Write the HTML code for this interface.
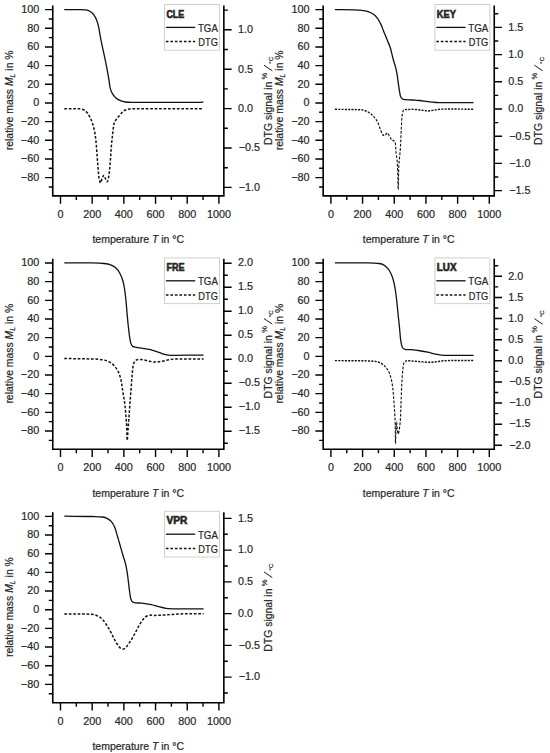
<!DOCTYPE html>
<html><head><meta charset="utf-8"><style>
html,body{margin:0;padding:0;background:#fff;}
svg{display:block;}
text{font-family:"Liberation Sans",sans-serif;font-size:10.8px;fill:#262626;stroke:#262626;stroke-width:0.2px;}
.tt{font-size:10.5px;}
.ax{fill:none;stroke:#000;stroke-width:1.6;}
.tk{fill:none;stroke:#000;stroke-width:1.4;}
.cv{fill:none;stroke:#111;stroke-width:1.3;stroke-linejoin:round;}
.cv.dash{stroke-width:1.5;}
.dash{stroke-dasharray:2.6 1.9;}
.dash.crv{stroke-dasharray:2.7 1.75;}
.c1 .dash.crv{stroke-dasharray:2.7 1.6;stroke-width:1.45;}
</style></head><body>
<svg width="550" height="753" viewBox="0 0 550 753">
<g class="c0">
<g transform="translate(0,0)">
<path class="ax" d="M52.76,5.45V195.9H223.85V5.45"/>
<text x="39.2" y="180.89" text-anchor="end">−80</text>
<text x="39.2" y="162.23" text-anchor="end">−60</text>
<text x="39.2" y="143.56" text-anchor="end">−40</text>
<text x="39.2" y="124.90" text-anchor="end">−20</text>
<text x="39.2" y="106.23" text-anchor="end">0</text>
<text x="39.2" y="87.56" text-anchor="end">20</text>
<text x="39.2" y="68.90" text-anchor="end">40</text>
<text x="39.2" y="50.23" text-anchor="end">60</text>
<text x="39.2" y="31.57" text-anchor="end">80</text>
<text x="39.2" y="12.90" text-anchor="end">100</text>
<text x="60.50" y="218" text-anchor="middle">0</text>
<text x="92.18" y="218" text-anchor="middle">200</text>
<text x="123.86" y="218" text-anchor="middle">400</text>
<text x="155.54" y="218" text-anchor="middle">600</text>
<text x="187.22" y="218" text-anchor="middle">800</text>
<text x="218.90" y="218" text-anchor="middle">1000</text>
<text x="238.75" y="190.70">−1.0</text>
<text x="238.75" y="151.30">−0.5</text>
<text x="237.95" y="111.90">0.0</text>
<text x="237.95" y="72.50">0.5</text>
<text x="237.95" y="33.10">1.0</text>
<path class="tk" d="M44.96,177.59H52.76M44.96,158.93H52.76M44.96,140.26H52.76M44.96,121.60H52.76M44.96,102.93H52.76M44.96,84.26H52.76M44.96,65.60H52.76M44.96,46.93H52.76M44.96,28.27H52.76M44.96,9.60H52.76M48.76,186.93H52.76M48.76,168.26H52.76M48.76,149.59H52.76M48.76,130.93H52.76M48.76,112.26H52.76M48.76,93.60H52.76M48.76,74.93H52.76M48.76,56.27H52.76M48.76,37.60H52.76M48.76,18.93H52.76M60.50,195.9V203.70M92.18,195.9V203.70M123.86,195.9V203.70M155.54,195.9V203.70M187.22,195.9V203.70M218.90,195.9V203.70M76.34,195.9V199.90M108.02,195.9V199.90M139.70,195.9V199.90M171.38,195.9V199.90M203.06,195.9V199.90M223.85,187.40H231.65M223.85,148.00H231.65M223.85,108.60H231.65M223.85,69.20H231.65M223.85,29.80H231.65M223.85,167.70H227.85M223.85,128.30H227.85M223.85,88.90H227.85M223.85,49.50H227.85M223.85,10.10H227.85"/>
<text class="tt" x="138.3" y="243.2" text-anchor="middle" textLength="91.7" lengthAdjust="spacingAndGlyphs">temperature <tspan font-style="italic">T</tspan> in °C</text>
<text class="tt" transform="translate(12.9,100.3) rotate(-90)" text-anchor="middle" textLength="99.8" lengthAdjust="spacingAndGlyphs">relative mass <tspan font-style="italic">M</tspan><tspan font-style="italic" font-size="7" dy="2">L</tspan><tspan dy="-2"> in %</tspan></text>
<text class="tt" transform="translate(271.8,145.0) rotate(-90)" textLength="63.3" lengthAdjust="spacingAndGlyphs">DTG signal in</text>
<text class="tt" transform="translate(266.5,79.4) rotate(-90)" style="font-size:7.5px;stroke-width:0.2px">%</text>
<path d="M272.3,70.8L264,65.2" stroke="#1c1c1c" stroke-width="1"/>
<text class="tt" transform="translate(273.4,63.7) rotate(-90)" style="font-size:6.1px;stroke-width:0.2px">°C</text>
<rect x="164.5" y="4.5" width="55" height="45.7" fill="#fff" stroke="#d0d0d0" stroke-width="1"/>
<text x="166.4" y="17.7" font-weight="bold" style="font-size:10px;stroke-width:0.6px" textLength="17.9" lengthAdjust="spacingAndGlyphs">CLE</text>
<path class="cv" d="M165.9,27.4H195.2"/>
<path class="cv dash" d="M165.9,41.6H195.2"/>
<text x="197.9" y="31.9" style="font-size:10.2px" textLength="20" lengthAdjust="spacingAndGlyphs">TGA</text>
<text x="198.3" y="46.4" style="font-size:10.2px" textLength="19.6" lengthAdjust="spacingAndGlyphs">DTG</text>
</g>
<path class="cv" d="M64.30,9.60C69.20,9.60 74.10,9.53 79.00,9.60C81.17,9.63 83.37,9.59 85.50,9.90C87.00,10.12 88.61,10.46 89.90,11.20C91.34,12.02 92.69,13.27 93.70,14.60C94.92,16.20 95.83,18.12 96.60,20.00C97.43,22.05 98.02,24.23 98.50,26.40C99.35,30.26 99.85,34.21 100.60,38.10C101.28,41.64 102.05,45.17 102.80,48.70C103.48,51.90 104.23,55.09 104.90,58.30C105.63,61.83 106.34,65.36 107.00,68.90C107.67,72.46 108.30,76.03 108.90,79.60C109.37,82.43 109.52,85.33 110.20,88.10C110.65,89.93 111.38,91.76 112.30,93.40C113.12,94.86 114.16,96.29 115.40,97.40C116.89,98.73 118.68,99.87 120.50,100.70C122.05,101.40 123.80,101.78 125.50,102.00C127.97,102.32 130.50,102.29 133.00,102.30C155.33,102.39 177.67,102.40 200.00,102.30C201.10,102.30 202.20,102.10 203.30,102.00"/>
<path class="cv dash crv" d="M64.30,108.80C69.37,108.80 74.46,108.54 79.50,108.80C80.90,108.87 82.36,109.21 83.60,109.80C84.79,110.37 85.91,111.30 86.80,112.30C87.88,113.50 88.71,114.97 89.50,116.40C90.38,118.00 91.16,119.69 91.80,121.40C92.52,123.32 93.08,125.31 93.60,127.30C94.15,129.38 94.65,131.48 95.00,133.60C95.47,136.45 95.76,139.33 96.05,142.20C96.36,145.33 96.56,148.47 96.80,151.60C97.04,154.77 97.26,157.93 97.50,161.10C97.72,164.00 97.94,166.90 98.20,169.80C98.44,172.47 98.52,175.18 99.00,177.80C99.32,179.54 100.05,182.78 100.60,182.90C101.08,183.01 101.49,179.92 102.10,178.50C102.59,177.38 103.34,175.30 103.90,175.30C104.44,175.30 104.87,177.45 105.40,178.50C105.97,179.62 106.74,182.00 107.20,181.80C107.80,181.54 108.30,178.70 108.60,177.10C109.13,174.24 109.40,171.31 109.70,168.40C110.03,165.24 110.26,162.07 110.50,158.90C110.70,156.24 110.80,153.56 111.00,150.90C111.23,147.76 111.51,144.63 111.80,141.50C111.97,139.66 112.19,137.83 112.40,136.00C112.59,134.30 112.77,132.60 113.00,130.90C113.33,128.46 113.43,125.93 114.10,123.60C114.56,122.00 115.47,120.49 116.40,119.10C117.27,117.79 118.45,116.69 119.50,115.50C120.72,114.12 121.83,112.60 123.20,111.40C124.00,110.70 125.00,110.17 126.00,109.80C127.27,109.33 128.64,108.92 130.00,108.90C154.40,108.58 178.87,108.83 203.30,108.80"/>
</g>
<g class="c1">
<g transform="translate(270.4,0)">
<path class="ax" d="M52.76,5.45V195.9H223.85V5.45"/>
<text x="39.2" y="180.89" text-anchor="end">−80</text>
<text x="39.2" y="162.23" text-anchor="end">−60</text>
<text x="39.2" y="143.56" text-anchor="end">−40</text>
<text x="39.2" y="124.90" text-anchor="end">−20</text>
<text x="39.2" y="106.23" text-anchor="end">0</text>
<text x="39.2" y="87.56" text-anchor="end">20</text>
<text x="39.2" y="68.90" text-anchor="end">40</text>
<text x="39.2" y="50.23" text-anchor="end">60</text>
<text x="39.2" y="31.57" text-anchor="end">80</text>
<text x="39.2" y="12.90" text-anchor="end">100</text>
<text x="60.50" y="218" text-anchor="middle">0</text>
<text x="92.18" y="218" text-anchor="middle">200</text>
<text x="123.86" y="218" text-anchor="middle">400</text>
<text x="155.54" y="218" text-anchor="middle">600</text>
<text x="187.22" y="218" text-anchor="middle">800</text>
<text x="218.90" y="218" text-anchor="middle">1000</text>
<text x="238.75" y="193.90">−1.5</text>
<text x="238.75" y="166.70">−1.0</text>
<text x="238.75" y="139.50">−0.5</text>
<text x="237.95" y="112.30">0.0</text>
<text x="237.95" y="85.10">0.5</text>
<text x="237.95" y="57.90">1.0</text>
<text x="237.95" y="30.70">1.5</text>
<path class="tk" d="M44.96,177.59H52.76M44.96,158.93H52.76M44.96,140.26H52.76M44.96,121.60H52.76M44.96,102.93H52.76M44.96,84.26H52.76M44.96,65.60H52.76M44.96,46.93H52.76M44.96,28.27H52.76M44.96,9.60H52.76M48.76,186.93H52.76M48.76,168.26H52.76M48.76,149.59H52.76M48.76,130.93H52.76M48.76,112.26H52.76M48.76,93.60H52.76M48.76,74.93H52.76M48.76,56.27H52.76M48.76,37.60H52.76M48.76,18.93H52.76M60.50,195.9V203.70M92.18,195.9V203.70M123.86,195.9V203.70M155.54,195.9V203.70M187.22,195.9V203.70M218.90,195.9V203.70M76.34,195.9V199.90M108.02,195.9V199.90M139.70,195.9V199.90M171.38,195.9V199.90M203.06,195.9V199.90M223.85,190.60H231.65M223.85,163.40H231.65M223.85,136.20H231.65M223.85,109.00H231.65M223.85,81.80H231.65M223.85,54.60H231.65M223.85,27.40H231.65M223.85,177.00H227.85M223.85,149.80H227.85M223.85,122.60H227.85M223.85,95.40H227.85M223.85,68.20H227.85M223.85,41.00H227.85M223.85,13.80H227.85"/>
<text class="tt" x="138.3" y="243.2" text-anchor="middle" textLength="91.7" lengthAdjust="spacingAndGlyphs">temperature <tspan font-style="italic">T</tspan> in °C</text>
<text class="tt" transform="translate(12.9,100.3) rotate(-90)" text-anchor="middle" textLength="99.8" lengthAdjust="spacingAndGlyphs">relative mass <tspan font-style="italic">M</tspan><tspan font-style="italic" font-size="7" dy="2">L</tspan><tspan dy="-2"> in %</tspan></text>
<text class="tt" transform="translate(271.8,145.0) rotate(-90)" textLength="63.3" lengthAdjust="spacingAndGlyphs">DTG signal in</text>
<text class="tt" transform="translate(266.5,79.4) rotate(-90)" style="font-size:7.5px;stroke-width:0.2px">%</text>
<path d="M272.3,70.8L264,65.2" stroke="#1c1c1c" stroke-width="1"/>
<text class="tt" transform="translate(273.4,63.7) rotate(-90)" style="font-size:6.1px;stroke-width:0.2px">°C</text>
<rect x="164.5" y="4.5" width="55" height="45.7" fill="#fff" stroke="#d0d0d0" stroke-width="1"/>
<text x="166.4" y="17.7" font-weight="bold" style="font-size:10px;stroke-width:0.6px" textLength="19.1" lengthAdjust="spacingAndGlyphs">KEY</text>
<path class="cv" d="M165.9,27.4H195.2"/>
<path class="cv dash" d="M165.9,41.6H195.2"/>
<text x="197.9" y="31.9" style="font-size:10.2px" textLength="20" lengthAdjust="spacingAndGlyphs">TGA</text>
<text x="198.3" y="46.4" style="font-size:10.2px" textLength="19.6" lengthAdjust="spacingAndGlyphs">DTG</text>
</g>
<path class="cv" d="M334.90,9.60C341.43,9.67 347.97,9.64 354.50,9.80C356.34,9.84 358.18,9.96 360.00,10.20C362.68,10.56 365.44,10.82 368.00,11.60C369.94,12.19 371.85,13.14 373.50,14.30C375.02,15.37 376.38,16.80 377.50,18.30C378.78,20.00 379.79,21.96 380.70,23.90C381.92,26.49 382.83,29.24 383.90,31.90C384.96,34.54 386.04,37.16 387.10,39.80C388.17,42.46 389.45,45.06 390.30,47.80C391.45,51.46 392.10,55.29 393.10,59.00C393.80,61.59 394.72,64.11 395.40,66.70C396.02,69.08 396.57,71.48 397.00,73.90C397.47,76.55 397.71,79.24 398.10,81.90C398.48,84.54 398.86,87.17 399.30,89.80C399.66,91.94 399.80,94.19 400.50,96.20C400.87,97.26 401.61,98.42 402.50,99.00C403.34,99.55 404.62,99.50 405.70,99.60C408.79,99.90 411.90,100.00 415.00,100.20C416.50,100.30 418.01,100.32 419.50,100.50C422.24,100.82 424.96,101.37 427.70,101.70C430.43,102.03 433.16,102.33 435.90,102.50C438.63,102.67 441.37,102.69 444.10,102.70C453.93,102.75 463.77,102.70 473.60,102.70"/>
<path class="cv dash crv" transform="translate(330.0,0) scale(0.77,1) translate(-330.0,0)" d="M336.36,109.30C347.71,109.47 359.08,109.32 370.39,109.80C372.54,109.89 374.71,110.34 376.75,111.00C378.96,111.71 381.13,112.71 383.12,113.90C385.03,115.04 386.89,116.42 388.44,118.00C390.09,119.68 391.51,121.67 392.73,123.70C393.98,125.77 394.67,128.18 395.84,130.30C396.79,132.01 397.74,134.20 399.09,135.20C399.73,135.67 400.95,135.00 401.82,134.70C402.86,134.34 404.00,132.90 404.81,133.20C405.90,133.60 406.56,135.65 407.53,136.80C408.42,137.85 409.29,139.01 410.39,139.80C411.41,140.54 413.02,140.58 413.90,141.40C414.58,142.05 414.90,143.21 415.06,144.20C415.51,146.88 415.36,149.69 415.71,152.40C416.05,154.95 416.84,157.44 417.14,160.00C417.53,163.31 417.60,166.67 417.79,170.00C417.95,172.67 418.08,175.33 418.18,178.00C418.33,181.83 418.44,189.50 418.57,189.50C418.70,189.50 418.84,181.83 418.96,178.00C419.10,173.83 419.07,169.65 419.35,165.50C419.54,162.65 420.05,159.83 420.39,157.00C420.75,154.00 421.18,151.01 421.43,148.00C421.79,143.68 421.94,139.33 422.21,135.00C422.46,131.00 422.68,127.00 422.99,123.00C423.20,120.33 423.26,117.61 423.77,115.00C424.08,113.38 424.38,111.27 425.45,110.30C426.42,109.43 428.38,109.57 429.87,109.50C433.92,109.31 438.02,109.29 442.08,109.50C447.02,109.76 451.95,110.69 456.88,110.90C459.00,110.99 461.13,110.61 463.25,110.40C466.80,110.04 470.33,109.28 473.90,109.20C488.08,108.88 502.29,109.20 516.49,109.20"/>
</g>
<g class="c0">
<g transform="translate(0,253.4)">
<path class="ax" d="M52.76,5.45V195.9H223.85V5.45"/>
<text x="39.2" y="180.89" text-anchor="end">−80</text>
<text x="39.2" y="162.23" text-anchor="end">−60</text>
<text x="39.2" y="143.56" text-anchor="end">−40</text>
<text x="39.2" y="124.90" text-anchor="end">−20</text>
<text x="39.2" y="106.23" text-anchor="end">0</text>
<text x="39.2" y="87.56" text-anchor="end">20</text>
<text x="39.2" y="68.90" text-anchor="end">40</text>
<text x="39.2" y="50.23" text-anchor="end">60</text>
<text x="39.2" y="31.57" text-anchor="end">80</text>
<text x="39.2" y="12.90" text-anchor="end">100</text>
<text x="60.50" y="218" text-anchor="middle">0</text>
<text x="92.18" y="218" text-anchor="middle">200</text>
<text x="123.86" y="218" text-anchor="middle">400</text>
<text x="155.54" y="218" text-anchor="middle">600</text>
<text x="187.22" y="218" text-anchor="middle">800</text>
<text x="218.90" y="218" text-anchor="middle">1000</text>
<text x="238.75" y="181.10">−1.5</text>
<text x="238.75" y="157.10">−1.0</text>
<text x="238.75" y="133.10">−0.5</text>
<text x="237.95" y="109.10">0.0</text>
<text x="237.95" y="85.10">0.5</text>
<text x="237.95" y="61.10">1.0</text>
<text x="237.95" y="37.10">1.5</text>
<text x="237.95" y="13.10">2.0</text>
<path class="tk" d="M44.96,177.59H52.76M44.96,158.93H52.76M44.96,140.26H52.76M44.96,121.60H52.76M44.96,102.93H52.76M44.96,84.26H52.76M44.96,65.60H52.76M44.96,46.93H52.76M44.96,28.27H52.76M44.96,9.60H52.76M48.76,186.93H52.76M48.76,168.26H52.76M48.76,149.59H52.76M48.76,130.93H52.76M48.76,112.26H52.76M48.76,93.60H52.76M48.76,74.93H52.76M48.76,56.27H52.76M48.76,37.60H52.76M48.76,18.93H52.76M60.50,195.9V203.70M92.18,195.9V203.70M123.86,195.9V203.70M155.54,195.9V203.70M187.22,195.9V203.70M218.90,195.9V203.70M76.34,195.9V199.90M108.02,195.9V199.90M139.70,195.9V199.90M171.38,195.9V199.90M203.06,195.9V199.90M223.85,177.80H231.65M223.85,153.80H231.65M223.85,129.80H231.65M223.85,105.80H231.65M223.85,81.80H231.65M223.85,57.80H231.65M223.85,33.80H231.65M223.85,9.80H231.65M223.85,189.80H227.85M223.85,165.80H227.85M223.85,141.80H227.85M223.85,117.80H227.85M223.85,93.80H227.85M223.85,69.80H227.85M223.85,45.80H227.85M223.85,21.80H227.85"/>
<text class="tt" x="138.3" y="243.2" text-anchor="middle" textLength="91.7" lengthAdjust="spacingAndGlyphs">temperature <tspan font-style="italic">T</tspan> in °C</text>
<text class="tt" transform="translate(12.9,100.3) rotate(-90)" text-anchor="middle" textLength="99.8" lengthAdjust="spacingAndGlyphs">relative mass <tspan font-style="italic">M</tspan><tspan font-style="italic" font-size="7" dy="2">L</tspan><tspan dy="-2"> in %</tspan></text>
<text class="tt" transform="translate(271.8,145.0) rotate(-90)" textLength="63.3" lengthAdjust="spacingAndGlyphs">DTG signal in</text>
<text class="tt" transform="translate(266.5,79.4) rotate(-90)" style="font-size:7.5px;stroke-width:0.2px">%</text>
<path d="M272.3,70.8L264,65.2" stroke="#1c1c1c" stroke-width="1"/>
<text class="tt" transform="translate(273.4,63.7) rotate(-90)" style="font-size:6.1px;stroke-width:0.2px">°C</text>
<rect x="164.5" y="4.5" width="55" height="45.7" fill="#fff" stroke="#d0d0d0" stroke-width="1"/>
<text x="166.4" y="17.7" font-weight="bold" style="font-size:10px;stroke-width:0.6px" textLength="18.1" lengthAdjust="spacingAndGlyphs">FRE</text>
<path class="cv" d="M165.9,27.4H195.2"/>
<path class="cv dash" d="M165.9,41.6H195.2"/>
<text x="197.9" y="31.9" style="font-size:10.2px" textLength="20" lengthAdjust="spacingAndGlyphs">TGA</text>
<text x="198.3" y="46.4" style="font-size:10.2px" textLength="19.6" lengthAdjust="spacingAndGlyphs">DTG</text>
</g>
<path class="cv" d="M64.30,262.90C73.77,262.90 83.24,262.76 92.70,262.90C96.54,262.96 100.39,263.10 104.20,263.50C106.39,263.73 108.66,264.03 110.70,264.80C112.46,265.47 114.21,266.53 115.60,267.80C117.21,269.26 118.64,271.09 119.70,273.00C121.11,275.55 122.16,278.39 123.00,281.20C123.79,283.86 124.18,286.65 124.60,289.40C125.18,293.18 125.61,296.99 126.00,300.80C126.44,305.16 126.70,309.54 127.10,313.90C127.50,318.27 127.92,322.64 128.40,327.00C128.76,330.27 129.10,333.55 129.60,336.80C129.94,339.02 130.21,341.30 130.90,343.40C131.27,344.53 132.03,345.65 132.80,346.50C133.06,346.79 133.59,346.72 134.00,346.80C136.46,347.26 138.93,347.69 141.40,348.10C144.10,348.55 146.84,348.80 149.50,349.40C151.74,349.90 153.92,350.67 156.10,351.40C158.29,352.14 160.39,353.14 162.60,353.80C164.49,354.37 166.44,354.84 168.40,355.10C170.28,355.34 172.20,355.30 174.10,355.30C183.93,355.30 193.77,355.17 203.60,355.10"/>
<path class="cv dash crv" d="M64.30,358.50C73.77,358.67 83.24,358.68 92.70,359.00C96.01,359.11 99.36,359.25 102.60,359.80C104.82,360.18 107.10,360.80 109.10,361.80C110.90,362.70 112.61,364.03 114.00,365.50C115.61,367.20 117.06,369.20 118.10,371.30C119.36,373.86 120.24,376.70 120.90,379.50C121.78,383.23 122.09,387.10 122.70,390.90C123.32,394.74 124.10,398.55 124.60,402.40C125.17,406.75 125.53,411.13 125.90,415.50C126.23,419.30 126.50,423.10 126.70,426.90C126.93,431.36 126.95,440.00 127.20,440.30C127.42,440.56 127.80,432.50 128.10,428.60C128.43,424.23 128.78,419.87 129.10,415.50C129.42,411.13 129.67,406.76 130.00,402.40C130.37,397.46 130.82,392.53 131.20,387.60C131.58,382.70 131.81,377.79 132.30,372.90C132.61,369.89 132.76,366.74 133.60,363.90C134.02,362.48 134.90,360.78 136.10,360.10C137.50,359.31 139.65,359.38 141.40,359.50C143.58,359.65 145.72,360.48 147.90,360.90C150.09,361.32 152.29,361.90 154.50,362.00C156.65,362.10 158.86,361.84 161.00,361.50C163.23,361.14 165.38,360.31 167.60,359.90C169.74,359.51 171.92,359.15 174.10,359.10C183.92,358.88 193.77,359.10 203.60,359.10"/>
</g>
<g class="c1">
<g transform="translate(270.4,253.4)">
<path class="ax" d="M52.76,5.45V195.9H223.85V5.45"/>
<text x="39.2" y="180.89" text-anchor="end">−80</text>
<text x="39.2" y="162.23" text-anchor="end">−60</text>
<text x="39.2" y="143.56" text-anchor="end">−40</text>
<text x="39.2" y="124.90" text-anchor="end">−20</text>
<text x="39.2" y="106.23" text-anchor="end">0</text>
<text x="39.2" y="87.56" text-anchor="end">20</text>
<text x="39.2" y="68.90" text-anchor="end">40</text>
<text x="39.2" y="50.23" text-anchor="end">60</text>
<text x="39.2" y="31.57" text-anchor="end">80</text>
<text x="39.2" y="12.90" text-anchor="end">100</text>
<text x="60.50" y="218" text-anchor="middle">0</text>
<text x="92.18" y="218" text-anchor="middle">200</text>
<text x="123.86" y="218" text-anchor="middle">400</text>
<text x="155.54" y="218" text-anchor="middle">600</text>
<text x="187.22" y="218" text-anchor="middle">800</text>
<text x="218.90" y="218" text-anchor="middle">1000</text>
<text x="238.75" y="195.20">−2.0</text>
<text x="238.75" y="174.08">−1.5</text>
<text x="238.75" y="152.95">−1.0</text>
<text x="238.75" y="131.83">−0.5</text>
<text x="237.95" y="110.70">0.0</text>
<text x="237.95" y="89.58">0.5</text>
<text x="237.95" y="68.45">1.0</text>
<text x="237.95" y="47.33">1.5</text>
<text x="237.95" y="26.20">2.0</text>
<path class="tk" d="M44.96,177.59H52.76M44.96,158.93H52.76M44.96,140.26H52.76M44.96,121.60H52.76M44.96,102.93H52.76M44.96,84.26H52.76M44.96,65.60H52.76M44.96,46.93H52.76M44.96,28.27H52.76M44.96,9.60H52.76M48.76,186.93H52.76M48.76,168.26H52.76M48.76,149.59H52.76M48.76,130.93H52.76M48.76,112.26H52.76M48.76,93.60H52.76M48.76,74.93H52.76M48.76,56.27H52.76M48.76,37.60H52.76M48.76,18.93H52.76M60.50,195.9V203.70M92.18,195.9V203.70M123.86,195.9V203.70M155.54,195.9V203.70M187.22,195.9V203.70M218.90,195.9V203.70M76.34,195.9V199.90M108.02,195.9V199.90M139.70,195.9V199.90M171.38,195.9V199.90M203.06,195.9V199.90M223.85,191.90H231.65M223.85,170.78H231.65M223.85,149.65H231.65M223.85,128.53H231.65M223.85,107.40H231.65M223.85,86.28H231.65M223.85,65.15H231.65M223.85,44.03H231.65M223.85,22.90H231.65M223.85,181.34H227.85M223.85,160.21H227.85M223.85,139.09H227.85M223.85,117.96H227.85M223.85,96.84H227.85M223.85,75.71H227.85M223.85,54.59H227.85M223.85,33.46H227.85M223.85,12.34H227.85"/>
<text class="tt" x="138.3" y="243.2" text-anchor="middle" textLength="91.7" lengthAdjust="spacingAndGlyphs">temperature <tspan font-style="italic">T</tspan> in °C</text>
<text class="tt" transform="translate(12.9,100.3) rotate(-90)" text-anchor="middle" textLength="99.8" lengthAdjust="spacingAndGlyphs">relative mass <tspan font-style="italic">M</tspan><tspan font-style="italic" font-size="7" dy="2">L</tspan><tspan dy="-2"> in %</tspan></text>
<text class="tt" transform="translate(271.8,145.0) rotate(-90)" textLength="63.3" lengthAdjust="spacingAndGlyphs">DTG signal in</text>
<text class="tt" transform="translate(266.5,79.4) rotate(-90)" style="font-size:7.5px;stroke-width:0.2px">%</text>
<path d="M272.3,70.8L264,65.2" stroke="#1c1c1c" stroke-width="1"/>
<text class="tt" transform="translate(273.4,63.7) rotate(-90)" style="font-size:6.1px;stroke-width:0.2px">°C</text>
<rect x="164.5" y="4.5" width="55" height="45.7" fill="#fff" stroke="#d0d0d0" stroke-width="1"/>
<text x="166.4" y="17.7" font-weight="bold" style="font-size:10px;stroke-width:0.6px" textLength="19.7" lengthAdjust="spacingAndGlyphs">LUX</text>
<path class="cv" d="M165.9,27.4H195.2"/>
<path class="cv dash" d="M165.9,41.6H195.2"/>
<text x="197.9" y="31.9" style="font-size:10.2px" textLength="20" lengthAdjust="spacingAndGlyphs">TGA</text>
<text x="198.3" y="46.4" style="font-size:10.2px" textLength="19.6" lengthAdjust="spacingAndGlyphs">DTG</text>
</g>
<path class="cv" d="M334.90,262.90C345.80,262.90 356.70,262.75 367.60,262.90C371.44,262.95 375.32,262.99 379.10,263.50C380.79,263.73 382.56,264.24 384.00,265.10C385.56,266.04 386.97,267.45 388.10,268.90C389.43,270.61 390.53,272.60 391.40,274.60C392.43,276.96 393.17,279.49 393.80,282.00C394.54,284.96 395.05,287.98 395.50,291.00C396.15,295.35 396.62,299.73 397.10,304.10C397.58,308.46 397.95,312.83 398.40,317.20C398.79,321.00 399.22,324.80 399.60,328.60C399.98,332.43 400.14,336.30 400.70,340.10C401.07,342.63 401.38,345.40 402.40,347.60C402.82,348.50 404.01,349.17 405.00,349.40C407.01,349.87 409.28,349.49 411.40,349.70C414.68,350.02 417.94,350.50 421.20,351.00C423.38,351.33 425.54,351.75 427.70,352.20C430.44,352.78 433.15,353.58 435.90,354.10C438.61,354.61 441.34,355.21 444.10,355.30C453.91,355.61 463.77,355.30 473.60,355.30"/>
<path class="cv dash crv" transform="translate(330.0,0) scale(0.77,1) translate(-330.0,0)" d="M336.36,360.60C351.95,360.73 367.55,360.54 383.12,361.00C386.69,361.11 390.36,361.40 393.77,362.30C396.03,362.90 398.21,364.15 400.13,365.50C402.10,366.88 404.04,368.56 405.45,370.50C407.03,372.66 408.16,375.26 409.09,377.80C410.06,380.43 410.65,383.23 411.17,386.00C411.78,389.23 412.11,392.53 412.47,395.80C412.89,399.63 413.17,403.47 413.51,407.30C413.82,410.87 414.21,414.43 414.42,418.00C414.64,421.99 414.70,426.00 414.81,430.00C414.92,434.50 414.92,443.14 415.06,443.50C415.18,443.81 415.33,435.83 415.58,432.00C415.81,428.66 416.13,422.37 416.49,422.00C416.78,421.70 417.05,427.36 417.53,430.00C417.78,431.36 418.31,434.00 418.70,434.00C419.09,434.00 419.59,431.36 419.87,430.00C420.41,427.36 420.89,424.68 421.17,422.00C421.58,418.02 421.74,414.00 421.95,410.00C422.21,405.00 422.31,400.00 422.60,395.00C423.00,388.10 423.28,381.17 424.03,374.30C424.45,370.43 424.76,366.18 426.10,362.80C426.54,361.71 428.14,361.04 429.35,360.90C432.73,360.51 436.37,361.04 439.87,361.20C444.16,361.40 448.44,361.78 452.73,362.00C455.54,362.15 458.36,362.38 461.17,362.30C464.03,362.22 466.88,361.77 469.74,361.50C472.55,361.24 475.36,360.77 478.18,360.70C490.94,360.40 503.72,360.50 516.49,360.40"/>
</g>
<g class="c0">
<g transform="translate(0,506.8)">
<path class="ax" d="M52.76,5.45V195.9H223.85V5.45"/>
<text x="39.2" y="180.89" text-anchor="end">−80</text>
<text x="39.2" y="162.23" text-anchor="end">−60</text>
<text x="39.2" y="143.56" text-anchor="end">−40</text>
<text x="39.2" y="124.90" text-anchor="end">−20</text>
<text x="39.2" y="106.23" text-anchor="end">0</text>
<text x="39.2" y="87.56" text-anchor="end">20</text>
<text x="39.2" y="68.90" text-anchor="end">40</text>
<text x="39.2" y="50.23" text-anchor="end">60</text>
<text x="39.2" y="31.57" text-anchor="end">80</text>
<text x="39.2" y="12.90" text-anchor="end">100</text>
<text x="60.50" y="218" text-anchor="middle">0</text>
<text x="92.18" y="218" text-anchor="middle">200</text>
<text x="123.86" y="218" text-anchor="middle">400</text>
<text x="155.54" y="218" text-anchor="middle">600</text>
<text x="187.22" y="218" text-anchor="middle">800</text>
<text x="218.90" y="218" text-anchor="middle">1000</text>
<text x="238.75" y="173.60">−1.0</text>
<text x="238.75" y="141.85">−0.5</text>
<text x="237.95" y="110.10">0.0</text>
<text x="237.95" y="78.35">0.5</text>
<text x="237.95" y="46.60">1.0</text>
<text x="237.95" y="14.85">1.5</text>
<path class="tk" d="M44.96,177.59H52.76M44.96,158.93H52.76M44.96,140.26H52.76M44.96,121.60H52.76M44.96,102.93H52.76M44.96,84.26H52.76M44.96,65.60H52.76M44.96,46.93H52.76M44.96,28.27H52.76M44.96,9.60H52.76M48.76,186.93H52.76M48.76,168.26H52.76M48.76,149.59H52.76M48.76,130.93H52.76M48.76,112.26H52.76M48.76,93.60H52.76M48.76,74.93H52.76M48.76,56.27H52.76M48.76,37.60H52.76M48.76,18.93H52.76M60.50,195.9V203.70M92.18,195.9V203.70M123.86,195.9V203.70M155.54,195.9V203.70M187.22,195.9V203.70M218.90,195.9V203.70M76.34,195.9V199.90M108.02,195.9V199.90M139.70,195.9V199.90M171.38,195.9V199.90M203.06,195.9V199.90M223.85,170.30H231.65M223.85,138.55H231.65M223.85,106.80H231.65M223.85,75.05H231.65M223.85,43.30H231.65M223.85,11.55H231.65M223.85,186.18H227.85M223.85,154.43H227.85M223.85,122.67H227.85M223.85,90.92H227.85M223.85,59.17H227.85M223.85,27.42H227.85"/>
<text class="tt" x="138.3" y="243.2" text-anchor="middle" textLength="91.7" lengthAdjust="spacingAndGlyphs">temperature <tspan font-style="italic">T</tspan> in °C</text>
<text class="tt" transform="translate(12.9,100.3) rotate(-90)" text-anchor="middle" textLength="99.8" lengthAdjust="spacingAndGlyphs">relative mass <tspan font-style="italic">M</tspan><tspan font-style="italic" font-size="7" dy="2">L</tspan><tspan dy="-2"> in %</tspan></text>
<text class="tt" transform="translate(271.8,145.0) rotate(-90)" textLength="63.3" lengthAdjust="spacingAndGlyphs">DTG signal in</text>
<text class="tt" transform="translate(266.5,79.4) rotate(-90)" style="font-size:7.5px;stroke-width:0.2px">%</text>
<path d="M272.3,70.8L264,65.2" stroke="#1c1c1c" stroke-width="1"/>
<text class="tt" transform="translate(273.4,63.7) rotate(-90)" style="font-size:6.1px;stroke-width:0.2px">°C</text>
<rect x="164.5" y="4.5" width="55" height="45.7" fill="#fff" stroke="#d0d0d0" stroke-width="1"/>
<text x="166.4" y="17.7" font-weight="bold" style="font-size:10px;stroke-width:0.6px" textLength="20.9" lengthAdjust="spacingAndGlyphs">VPR</text>
<path class="cv" d="M165.9,27.4H195.2"/>
<path class="cv dash" d="M165.9,41.6H195.2"/>
<text x="197.9" y="31.9" style="font-size:10.2px" textLength="20" lengthAdjust="spacingAndGlyphs">TGA</text>
<text x="198.3" y="46.4" style="font-size:10.2px" textLength="19.6" lengthAdjust="spacingAndGlyphs">DTG</text>
</g>
<path class="cv" d="M64.30,516.20C73.77,516.30 83.24,516.30 92.70,516.50C96.00,516.57 99.35,516.54 102.60,517.00C104.29,517.24 106.02,517.79 107.50,518.60C109.02,519.43 110.51,520.56 111.60,521.90C112.95,523.56 113.98,525.60 114.80,527.60C115.88,530.23 116.48,533.06 117.30,535.80C118.12,538.53 118.91,541.26 119.70,544.00C120.81,547.83 121.87,551.68 123.00,555.50C123.80,558.21 124.81,560.86 125.50,563.60C126.18,566.30 126.66,569.05 127.10,571.80C127.62,575.05 127.99,578.33 128.40,581.60C128.82,584.90 129.12,588.21 129.60,591.50C129.99,594.18 130.13,597.02 131.00,599.50C131.40,600.65 132.29,602.01 133.40,602.40C135.83,603.25 138.88,602.85 141.60,603.20C144.81,603.61 148.03,604.07 151.20,604.70C153.39,605.14 155.52,605.87 157.70,606.40C160.42,607.07 163.14,607.85 165.90,608.30C168.07,608.65 170.29,608.77 172.50,608.80C182.86,608.94 193.23,608.80 203.60,608.80"/>
<path class="cv dash crv" d="M64.30,613.90C73.23,614.00 82.19,613.83 91.10,614.20C92.76,614.27 94.47,614.60 96.00,615.20C97.73,615.87 99.50,616.78 100.90,618.00C102.77,619.62 104.36,621.66 105.80,623.70C107.63,626.29 109.17,629.11 110.70,631.90C112.17,634.58 113.32,637.43 114.80,640.10C115.92,642.13 117.12,644.15 118.50,646.00C119.19,646.92 120.04,647.83 121.00,648.40C121.71,648.83 122.73,649.15 123.50,649.00C124.39,648.82 125.31,648.08 126.00,647.40C126.81,646.61 127.33,645.53 128.00,644.60C129.07,643.10 130.24,641.67 131.20,640.10C132.67,637.70 133.94,635.17 135.30,632.70C136.94,629.71 138.38,626.58 140.20,623.70C141.65,621.41 143.12,618.92 145.10,617.20C146.39,616.08 148.31,615.52 150.00,615.20C151.44,614.92 153.00,615.43 154.50,615.40C158.30,615.33 162.10,615.12 165.90,614.90C169.74,614.68 173.56,614.29 177.40,614.10C181.76,613.89 186.13,613.77 190.50,613.70C194.87,613.63 199.23,613.70 203.60,613.70"/>
</g>
</svg>
</body></html>
